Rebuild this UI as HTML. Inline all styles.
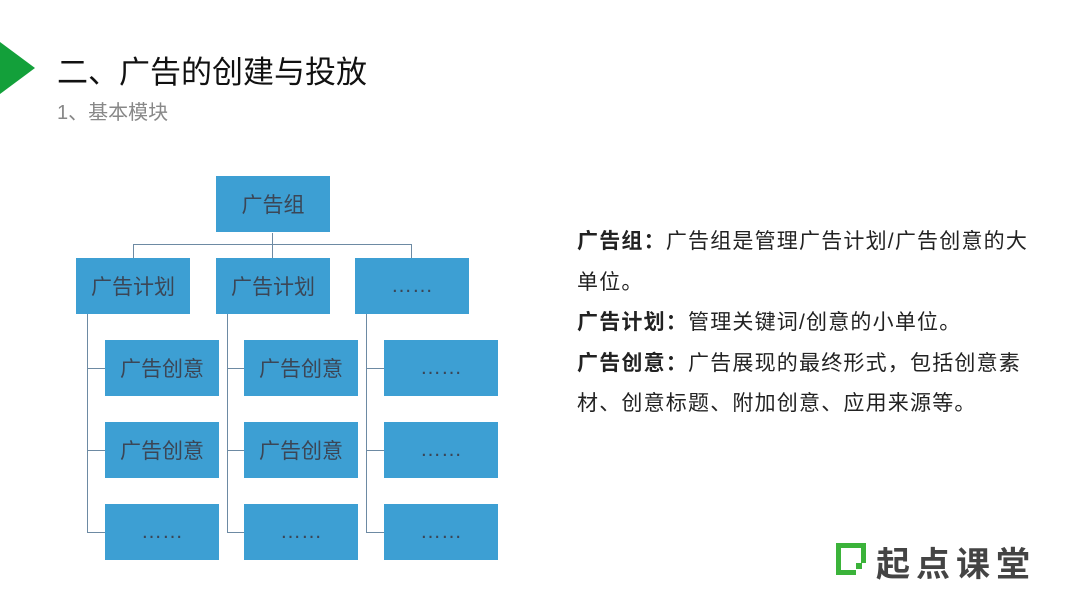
<!DOCTYPE html>
<html><head><meta charset="utf-8"><style>
body{margin:0;width:1080px;height:608px;background:#fff;position:relative;overflow:hidden;font-family:"Liberation Sans","Noto Sans CJK SC",sans-serif}
.b{position:absolute;background:#3d9fd3;color:#3b4656;font-size:21px;display:flex;align-items:center;justify-content:center;width:114px;height:56px}
.l{position:absolute;background:#6d8aa3}
.t{position:absolute;left:577px;font-size:21px;letter-spacing:1.2px;color:#222;line-height:40.5px;width:480px;white-space:nowrap}
</style></head><body>
<div style="position:absolute;left:0;top:42px;width:0;height:0;border-top:26px solid transparent;border-bottom:26px solid transparent;border-left:35px solid #13a03a"></div>
<div style="position:absolute;left:57px;top:47px;font-size:31px;color:#111">二、广告的创建与投放</div>
<div style="position:absolute;left:57px;top:96px;font-size:20px;color:#888">1、基本模块</div>

<div class="l" style="left:272px;top:233px;width:1px;height:25px"></div>
<div class="l" style="left:133px;top:244px;width:278px;height:1px"></div>
<div class="l" style="left:133px;top:244px;width:1px;height:14px"></div>
<div class="l" style="left:411px;top:244px;width:1px;height:14px"></div>
<div class="b" style="left:216px;top:176px">广告组</div>
<div class="b" style="left:76px;top:258px">广告计划</div>
<div class="b" style="left:216px;top:258px">广告计划</div>
<div class="b" style="left:355px;top:258px">……</div>

<div class="l" style="left:87px;top:314px;width:1px;height:218px"></div>
<div class="l" style="left:227px;top:314px;width:1px;height:218px"></div>
<div class="l" style="left:366px;top:314px;width:1px;height:218px"></div>
<div class="l" style="left:87px;top:368px;width:18px;height:1px"></div>
<div class="l" style="left:87px;top:450px;width:18px;height:1px"></div>
<div class="l" style="left:87px;top:532px;width:18px;height:1px"></div>
<div class="l" style="left:227px;top:368px;width:17px;height:1px"></div>
<div class="l" style="left:227px;top:450px;width:17px;height:1px"></div>
<div class="l" style="left:227px;top:532px;width:17px;height:1px"></div>
<div class="l" style="left:366px;top:368px;width:18px;height:1px"></div>
<div class="l" style="left:366px;top:450px;width:18px;height:1px"></div>
<div class="l" style="left:366px;top:532px;width:18px;height:1px"></div>

<div class="b" style="left:105px;top:340px">广告创意</div>
<div class="b" style="left:244px;top:340px">广告创意</div>
<div class="b" style="left:384px;top:340px">……</div>
<div class="b" style="left:105px;top:422px">广告创意</div>
<div class="b" style="left:244px;top:422px">广告创意</div>
<div class="b" style="left:384px;top:422px">……</div>
<div class="b" style="left:105px;top:504px">……</div>
<div class="b" style="left:244px;top:504px">……</div>
<div class="b" style="left:384px;top:504px">……</div>

<div class="t" style="top:222px"><b>广告组：</b>广告组是管理广告计划/广告创意的大<br>单位。<br><b>广告计划：</b>管理关键词/创意的小单位。<br><b>广告创意：</b>广告展现的最终形式，包括创意素<br>材、创意标题、附加创意、应用来源等。</div>

<div style="position:absolute;left:836px;top:543px;width:5px;height:32px;background:#3bb33a"></div>
<div style="position:absolute;left:836px;top:543px;width:30px;height:5px;background:#3bb33a"></div>
<div style="position:absolute;left:836px;top:570px;width:20px;height:5px;background:#3bb33a"></div>
<div style="position:absolute;left:861px;top:543px;width:5px;height:20px;background:#3bb33a"></div>
<div style="position:absolute;left:856px;top:563px;width:6px;height:6px;background:#3bb33a"></div>
<div style="position:absolute;left:876px;top:537px;font-size:34px;color:#444;font-weight:bold;letter-spacing:6px">起点课堂</div>
</body></html>
